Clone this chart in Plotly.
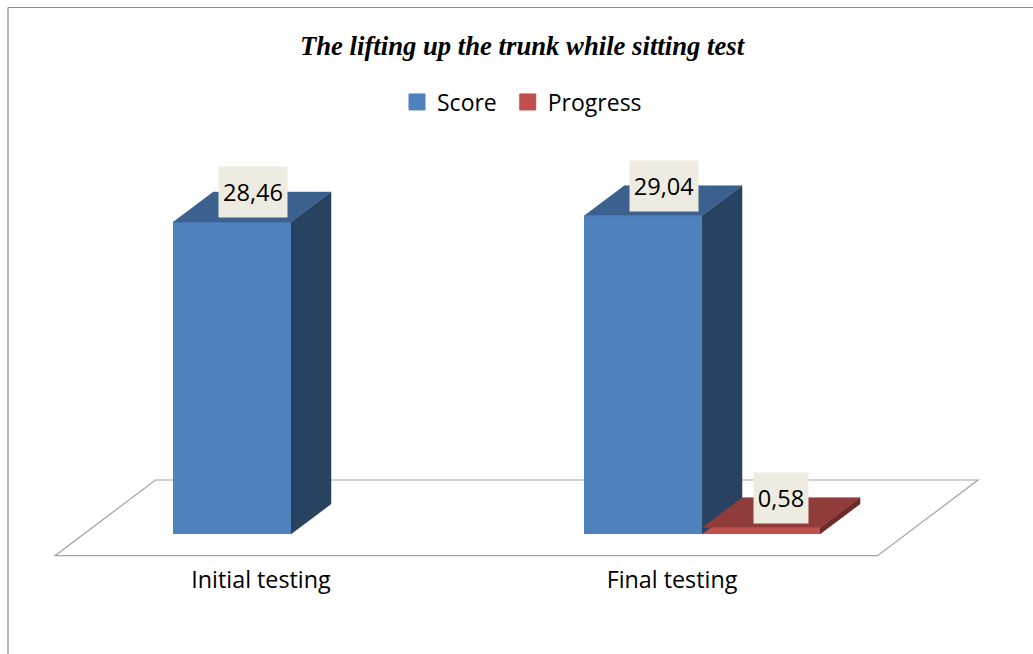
import plotly.graph_objects as go

# ---- data ----
categories = ["Initial testing", "Final testing"]
score = [28.46, 29.04]
progress = [None, 0.58]
score_labels = ["28,46", "29,04"]
progress_labels = [None, "0,58"]
title_text = "The lifting up the trunk while sitting test"

# ---- geometry of the fake 3D look, in axis units ----
W, H = 1033, 654
MARGIN_B = 95
X_UNIT = 411.0          # px per category
Y_UNIT = 10.96          # px per value unit
X0_PX, Y0_PX = 291.0, 534.0   # pixel of x=0 and value=0
BAR_W = 118 / X_UNIT
DX = 40 / X_UNIT        # depth offset along x
DY = 30 / Y_UNIT        # depth offset along y
x_range = [-X0_PX / X_UNIT, (W - X0_PX) / X_UNIT]
y_range = [(Y0_PX - (H - MARGIN_B)) / Y_UNIT, Y0_PX / Y_UNIT]
LABEL_SHIFT = 30 / X_UNIT

FLOOR_L, FLOOR_R = -236 / X_UNIT, 586.5 / X_UNIT
FLOOR_FRONT, FLOOR_BACK = -21.7 / Y_UNIT, 54 / Y_UNIT
FLOOR_SKEW = 100.5 / X_UNIT

BLUE, BLUE_TOP, BLUE_SIDE = "#4F81BD", "#3C618F", "#284261"
RED, RED_TOP, RED_SIDE = "#C0504D", "#8F3C3A", "#6C2B29"
FONT = "Open Sans"
GREY = "#A3A3A3"

idx = list(range(len(categories)))
fig = go.Figure()


def solid(xs, ys, color):
    fig.add_trace(go.Scatter(x=xs, y=ys, mode="lines", fill="toself", fillcolor=color,
                             line=dict(color=color, width=0.5), hoverinfo="skip",
                             showlegend=False))


fig.add_trace(go.Bar(x=idx, y=score, name="Score", marker=dict(color=BLUE, line_width=0),
                     showlegend=False))
fig.add_trace(go.Bar(x=idx, y=progress, name="Progress", marker=dict(color=RED, line_width=0),
                     showlegend=False))


def faces(i, v, xl, top_c, side_c):
    xr = xl + BAR_W
    solid([xr, xr + DX, xr + DX, xr], [0, DY, v + DY, v], side_c)
    solid([xl, xr, xr + DX, xl + DX], [v, v, v + DY, v + DY], top_c)


annotations = []


def label(text, x, y, w):
    annotations.append(dict(x=x, y=y, xref="x", yref="y", text=text, showarrow=False,
                            width=w, height=50, borderpad=0, bgcolor="#EEECE1",
                            align="center", valign="middle",
                            font=dict(family=FONT, size=23.6, color="#000000")))


for i in idx:
    faces(i, score[i], i - BAR_W, BLUE_TOP, BLUE_SIDE)
    label(score_labels[i], i - BAR_W / 2 + DX / 2 + 1 / X_UNIT, score[i] + DY, 68)
    if progress[i] is not None:
        faces(i, progress[i], i, RED_TOP, RED_SIDE)
        label(progress_labels[i], i + BAR_W / 2 + DX / 2, progress[i] + DY, 54)

# legend entries
fig.add_trace(go.Scatter(x=[None], y=[None], mode="markers", name="Score\u00a0",
                         marker=dict(symbol="square", size=16, color=BLUE,
                                     line=dict(color=BLUE, width=1))))
fig.add_trace(go.Scatter(x=[None], y=[None], mode="markers", name="Progress",
                         marker=dict(symbol="square", size=16, color=RED,
                                     line=dict(color=RED, width=1))))

floor_path = (f"M{FLOOR_L},{FLOOR_FRONT} L{FLOOR_R},{FLOOR_FRONT} "
              f"L{FLOOR_R + FLOOR_SKEW},{FLOOR_BACK} L{FLOOR_L + FLOOR_SKEW},{FLOOR_BACK} Z")

top_line = (H - MARGIN_B - 7.5) / (H - MARGIN_B)
shapes = [
    dict(type="path", path=floor_path, xref="x", yref="y", layer="below",
         line=dict(color=GREY, width=1.2), fillcolor="rgba(0,0,0,0)"),
    # chart frame
    dict(type="line", xref="paper", yref="paper", x0=8 / W, x1=1, y0=top_line, y1=top_line,
         line=dict(color="#8C8C8C", width=1.2)),
    dict(type="line", xref="paper", yref="paper", x0=8 / W, x1=8 / W, y0=-MARGIN_B / (H - MARGIN_B),
         y1=top_line, line=dict(color="#8C8C8C", width=1.2)),
]

fig.update_layout(
    width=W, height=H, margin=dict(l=0, r=0, t=0, b=MARGIN_B, pad=0, autoexpand=False),
    paper_bgcolor="white", plot_bgcolor="white",
    barmode="group", bargap=1 - 2 * BAR_W, bargroupgap=0,
    title=dict(text=f"<b><i>{title_text}</i></b>", x=522 / W, xanchor="center", y=1 - 46 / H,
               yanchor="middle", font=dict(family="Liberation Serif", size=26.7, color="#000000")),
    showlegend=True,
    legend=dict(orientation="h", x=397 / W, xanchor="left", y=(H - MARGIN_B - 102) / (H - MARGIN_B),
                yanchor="middle", font=dict(family=FONT, size=23, color="#000000"),
                bgcolor="rgba(0,0,0,0)", borderwidth=0),
    xaxis=dict(range=x_range, tickvals=[i - LABEL_SHIFT for i in idx], ticktext=categories,
               showgrid=False, zeroline=False, showline=False, ticks="outside", ticklen=0,
               tickcolor="rgba(0,0,0,0)",
               tickfont=dict(family=FONT, size=23.3, color="#000000"),
               fixedrange=True),
    yaxis=dict(range=y_range, visible=False, fixedrange=True),
    shapes=shapes, annotations=annotations,
)

fig.write_html("out.html", config=dict(displayModeBar=False),
               post_script="document.body.style.margin='0';")
